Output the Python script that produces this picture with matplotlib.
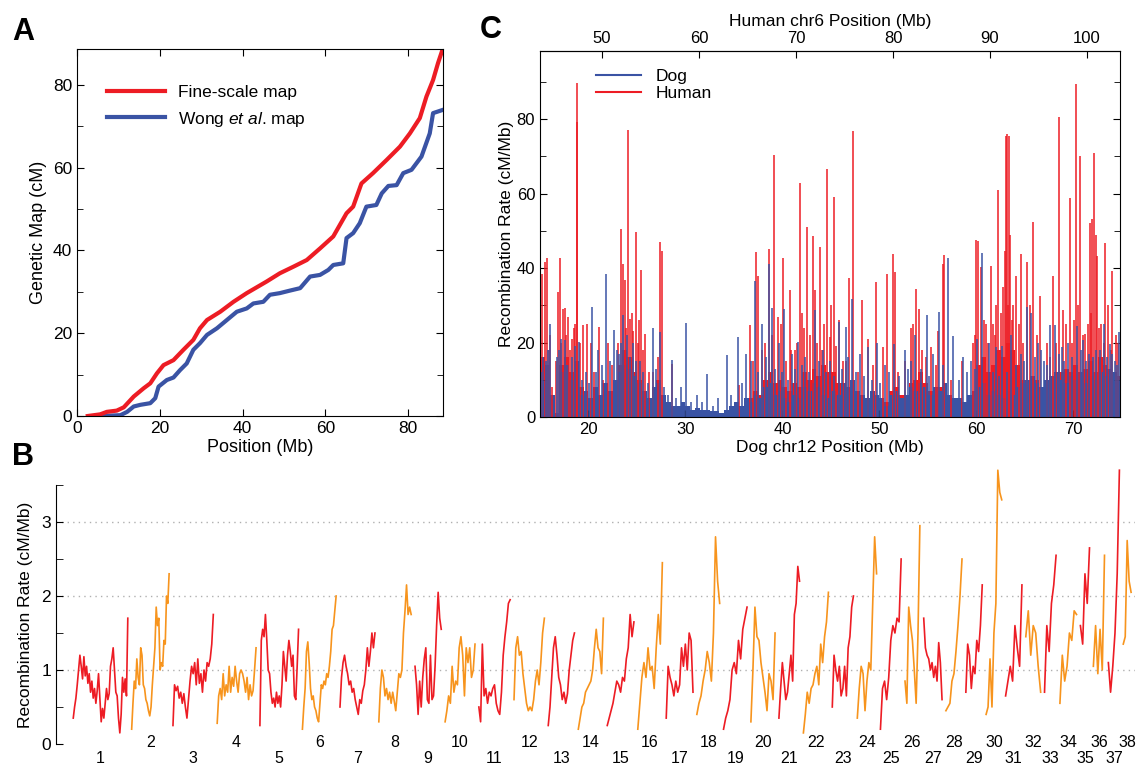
import numpy as np
import matplotlib.pyplot as plt
from matplotlib.ticker import MultipleLocator, FixedLocator
from matplotlib.lines import Line2D

plt.rcParams['font.family'] = ['Liberation Sans', 'DejaVu Sans']
plt.rcParams['mathtext.fontset'] = 'custom'
plt.rcParams['mathtext.rm'] = 'Liberation Sans'
plt.rcParams['mathtext.it'] = 'Liberation Sans:italic'

RED = '#ed1c24'
ORANGE = '#f7941d'
BLUE = '#3a53a4'

# ---- panel A: genetic map vs physical position
fine_pos = [2.6, 5.6, 7.2, 9.6, 11.3, 13.7, 16.1, 17.7, 19.3, 20.9, 23.3, 25.7, 28.1, 29.7,
            31.4, 34.6, 37.8, 41.0, 45.8, 49.0, 52.3, 55.5, 58.7, 61.9, 65.1, 66.7, 68.7,
            71.5, 74.8, 78.0, 80.4, 82.8, 84.4, 86.0, 87.2, 88.3]
fine_cm = [0, 0.4, 1.0, 1.3, 2.1, 4.7, 6.7, 7.9, 10.3, 12.3, 13.5, 16.0, 18.4, 21.2,
           23.2, 25.2, 27.6, 29.7, 32.5, 34.5, 36.1, 37.7, 40.5, 43.4, 49.0, 50.6, 56.2,
           58.7, 61.9, 65.1, 68.3, 72.0, 77.2, 81.2, 85.3, 88.6]
wong_pos = [5.6, 10.5, 12.1, 13.7, 15.3, 17.7, 18.9, 19.7, 21.7, 23.3, 24.9, 26.5, 28.1,
            29.7, 31.4, 33.8, 36.2, 38.6, 41.0, 42.6, 45.0, 46.6, 49.0, 51.4, 53.9, 56.3,
            58.7, 60.7, 61.9, 64.3, 65.1, 66.7, 68.3, 69.9, 72.3, 73.6, 75.2, 77.2, 78.8,
            80.8, 83.2, 85.2, 86.0, 88.4]
wong_cm = [0, 0.2, 1.0, 2.3, 2.7, 3.1, 4.3, 7.1, 8.7, 9.3, 11.1, 12.7, 16.0,
           17.6, 19.6, 21.2, 23.2, 25.2, 26.0, 27.2, 27.6, 29.3, 29.7, 30.3, 30.9, 33.7,
           34.1, 35.3, 36.5, 36.9, 43.0, 44.2, 46.6, 50.6, 51.0, 53.8, 55.6, 55.8, 58.7,
           59.5, 62.7, 68.3, 73.2, 74.0]

# ---- panel B: genome-wide rates by chromosome
chrom_names = [str(i) for i in range(1, 39)]
chrom_len = [125.6, 88.4, 94.7, 91.5, 91.0, 80.3, 83.0, 77.3, 64.0, 72.0, 75.0, 73.0, 64.0,
             61.5, 65.0, 60.4, 65.2, 56.6, 58.1, 59.5, 51.8, 61.4, 53.0, 48.9, 52.0, 39.3,
             46.8, 42.0, 42.6, 41.0, 42.5, 39.3, 32.1, 43.1, 26.8, 31.2, 31.0, 24.0]
chrom_rates = [
    [0.35, 0.5, 0.62, 0.8, 1.0, 1.2, 1.05, 0.88, 1.18, 0.92, 1.05, 0.82, 0.95, 0.7, 0.85, 0.62,
     0.75, 0.55, 0.72, 0.95, 0.62, 0.3, 0.48, 0.35, 0.55, 0.75, 0.6, 0.68, 1.05, 1.15, 1.3, 1.0,
     0.7, 0.65, 0.35, 0.15, 0.4, 0.9, 0.7, 0.88, 0.65, 1.7],
    [0.2, 0.55, 0.85, 0.75, 1.15, 0.9, 0.8, 1.3, 1.2, 0.8, 0.75, 0.6, 0.55, 0.45, 0.38, 0.5,
     0.8, 1.05, 1.3, 1.85, 1.6, 1.7, 1.0, 1.1, 1.05, 1.4, 1.35, 2.0, 1.9, 2.3],
    [0.25, 0.8, 0.72, 0.78, 0.62, 0.7, 0.55, 0.68, 0.5, 0.35, 0.6, 0.85, 1.05, 0.95, 1.1, 0.8,
     1.15, 0.82, 0.95, 0.7, 1.0, 0.85, 1.1, 1.05, 1.15, 1.35, 1.75],
    [0.28, 0.65, 0.75, 0.6, 0.95, 0.65, 0.8, 0.7, 1.05, 0.7, 0.9, 0.78, 1.05, 0.85, 0.7, 0.95,
     1.0, 0.95, 0.85, 0.7, 0.9, 0.6, 0.8, 0.65, 0.72, 1.0, 1.3],
    [0.25, 1.4, 1.55, 1.45, 1.75, 1.4, 1.0, 0.95, 0.7, 0.55, 0.62, 0.5, 0.7, 0.55, 0.65, 0.5,
     0.8, 1.25, 1.05, 0.85, 1.2, 1.4, 1.25, 1.05, 1.2, 0.65, 0.6, 1.05, 1.55],
    [0.2, 0.5, 0.75, 1.25, 1.38, 1.1, 0.75, 0.6, 0.65, 0.5, 0.45, 0.35, 0.3, 0.55, 0.8, 0.75,
     0.85, 0.8, 0.95, 0.9, 1.05, 1.25, 1.55, 1.6, 1.8, 2.0],
    [0.5, 0.9, 1.1, 1.2, 1.05, 0.95, 0.8, 0.85, 0.7, 0.75, 0.6, 0.5, 0.4, 0.6, 0.55, 0.72,
     0.8, 1.0, 1.3, 1.05, 1.25, 1.5, 1.3, 1.5],
    [0.3, 0.75, 1.0, 0.9, 0.65, 0.75, 0.6, 0.7, 0.55, 0.7, 0.58, 0.45, 0.7, 0.95, 0.9, 1.0,
     1.5, 1.8, 2.15, 1.75, 1.85, 1.75],
    [1.05, 0.8, 0.4, 0.85, 0.5, 0.9, 1.15, 1.3, 0.6, 0.55, 1.2, 0.6, 0.65, 1.05, 1.6, 2.05,
     1.7, 1.55],
    [0.3, 0.45, 0.65, 0.55, 1.05, 0.7, 0.85, 0.8, 1.3, 1.45, 1.2, 0.65, 1.3, 1.1, 1.3, 0.9,
     1.0, 1.35],
    [0.5, 0.3, 1.35, 0.65, 0.75, 0.55, 0.7, 0.65, 0.75, 0.8, 0.55, 0.45, 0.4, 0.7, 1.2, 1.45,
     1.65, 1.9, 1.95],
    [0.6, 1.3, 1.45, 1.2, 1.25, 0.95, 0.75, 0.55, 0.45, 0.5, 0.45, 0.6, 0.85, 1.0, 0.8, 1.1,
     1.5, 1.7],
    [0.25, 0.5, 0.9, 1.3, 1.45, 1.2, 0.9, 0.8, 0.6, 0.7, 0.55, 0.68, 1.0, 1.2, 1.4, 1.5],
    [0.2, 0.35, 0.5, 0.55, 0.7, 0.75, 0.8, 0.85, 1.0, 1.3, 1.55, 1.3, 1.25, 0.95, 1.7],
    [0.25, 0.35, 0.45, 0.55, 0.7, 0.85, 0.8, 0.7, 0.9, 0.85, 1.15, 1.3, 1.75, 1.45, 1.65],
    [0.2, 0.55, 0.9, 1.1, 0.9, 1.3, 1.0, 1.05, 0.75, 1.3, 1.75, 1.35, 2.45],
    [0.35, 1.05, 0.9, 0.8, 0.65, 0.85, 0.7, 0.8, 1.3, 1.05, 1.35, 1.0, 1.5, 1.4, 0.7],
    [0.4, 0.55, 0.65, 0.85, 1.0, 1.25, 1.1, 0.85, 1.5, 2.8, 2.2, 1.9],
    [0.2, 0.35, 0.45, 0.6, 1.0, 1.1, 0.95, 1.4, 1.15, 1.55, 1.7, 1.85],
    [0.3, 1.0, 1.85, 1.45, 1.4, 1.1, 0.9, 0.7, 0.45, 0.95, 0.85, 0.6, 1.5],
    [0.35, 0.75, 1.1, 0.85, 0.6, 0.7, 0.95, 1.2, 0.85, 1.75, 1.9, 2.4, 2.2],
    [0.15, 0.4, 0.7, 0.55, 0.75, 0.8, 0.95, 1.05, 0.8, 1.35, 1.1, 1.45, 1.65, 2.05],
    [0.5, 1.2, 1.0, 0.85, 1.05, 0.65, 0.75, 1.05, 0.65, 1.3, 1.45, 1.85, 2.0],
    [0.35, 0.75, 1.05, 0.95, 0.45, 0.85, 1.1, 1.0, 1.9, 2.8, 2.3],
    [0.2, 0.75, 0.85, 0.6, 0.9, 1.4, 1.6, 1.5, 1.7, 1.65, 2.5],
    [0.85, 0.55, 1.85, 1.6, 1.4, 1.0, 0.55, 1.5, 2.95],
    [1.7, 1.3, 1.2, 1.15, 1.0, 1.1, 0.9, 1.05, 0.85, 1.37, 1.1, 0.6],
    [0.45, 0.5, 0.55, 0.85, 0.95, 1.25, 1.6, 2.0, 2.5],
    [0.7, 1.35, 1.2, 0.75, 1.05, 0.95, 1.4, 1.25, 1.6, 2.15],
    [0.4, 0.5, 1.15, 0.5, 1.5, 1.9, 3.7, 3.4, 3.3],
    [0.65, 0.85, 1.05, 0.85, 1.6, 1.3, 1.05, 2.15],
    [1.45, 1.8, 1.2, 1.6, 1.5, 1.05, 0.7],
    [0.7, 1.6, 1.25, 1.9, 2.15, 2.55],
    [0.55, 1.2, 0.85, 1.05, 1.5, 1.4, 1.8, 1.75],
    [1.6, 1.35, 2.3, 1.9, 2.65],
    [1.05, 1.6, 0.95, 1.55, 1.0, 2.55],
    [1.1, 0.7, 1.05, 1.5, 2.3, 3.7],
    [1.35, 1.45, 2.75, 2.2, 2.05],
]
grid_levels = [1, 2, 3]

# ---- panel C: dog chr12 vs human chr6 rates
human_offset = 28.6
base_bins = np.arange(15.0, 75.0, 0.5)
dog_base = [10, 14, 6, 1, 12, 14, 10, 15, 6, 7,
            5, 8, 6, 9, 7, 10, 12, 14, 13, 11,
            9, 7, 5, 8, 9, 6, 4, 3, 3, 4,
            3, 2, 2.5, 2, 2, 1.5, 1.5, 1, 2, 3,
            4, 3, 5, 4, 6, 5, 8, 9, 6, 7,
            5, 4, 6, 5, 8, 7, 9, 8, 6, 5,
            7, 6, 9, 8, 10, 7, 6, 5, 7, 6,
            5, 3, 6, 7, 5, 6, 8, 7, 9, 8,
            6, 8, 7, 9, 6, 5, 5, 4, 6, 7,
            8, 9, 6, 7, 6, 5, 7, 6, 8, 9,
            10, 11, 9, 8, 10, 11, 12, 10, 9, 11,
            10, 12, 9, 11, 10, 12, 11, 13, 12, 10]
human_base = [16, 12, 4, 1, 14, 16, 12, 14, 8, 6,
              5, 6, 5, 7, 6, 8, 14, 18, 16, 12,
              10, 6, 4, 6, 10, 5, 3, 2, 2, 2,
              2, 1.5, 1.5, 1.5, 1, 1, 1, 1, 1.5, 2,
              3, 3, 4, 5, 7, 6, 10, 12, 9, 10,
              8, 7, 9, 8, 12, 10, 13, 11, 14, 12,
              12, 9, 7, 6, 8, 6, 5, 5, 7, 6,
              5, 4, 7, 8, 6, 6, 9, 10, 12, 9,
              7, 6, 8, 7, 5, 4, 4, 4, 5, 6,
              14, 16, 12, 14, 18, 16, 20, 18, 14, 10,
              8, 9, 10, 8, 9, 10, 11, 12, 13, 12,
              14, 12, 13, 15, 12, 16, 14, 10, 12, 11]
h_pos = [15.2, 15.5, 15.7, 16.0, 16.9, 17.05, 17.35, 17.6, 17.9, 18.3, 18.5, 18.77, 18.82,
         19.4, 19.8, 21.1, 22.0, 23.3, 23.6, 23.8, 24.1, 24.3, 24.85, 25.4, 25.85, 27.4,
         27.6, 28.6, 35.5, 36.7, 37.3, 37.5, 38.6, 39.1, 39.5, 40.05, 40.75, 41.3, 41.8,
         42.5, 43.1, 43.4, 43.9, 44.6, 44.9, 45.3, 45.8, 46.9, 47.3, 48.2, 48.8, 49.6,
         50.4, 50.8, 51.4, 51.6, 53.8, 54.1, 55.3, 56.5, 56.7, 60.0, 60.2, 60.5, 61.5,
         61.7, 62.2, 62.9, 63.0, 63.15, 63.35, 63.5, 64.1, 64.6, 65.2, 65.85, 66.6, 67.9,
         68.5, 68.9, 69.6, 70.3, 70.7, 71.2, 71.7, 71.9, 72.1, 72.3, 72.45, 73.3, 74.0,
         42.0, 42.8, 44.3, 45.0, 45.5, 46.2, 53.3, 53.5, 54.4, 56.0, 58.5, 59.6, 61.0,
         61.9, 62.5, 63.8, 64.4, 65.5, 66.2, 67.3, 69.2, 69.9, 70.5, 71.5, 72.8, 73.6,
         74.4, 16.6, 19.1, 20.3, 24.6, 25.1, 26.2, 38.2, 39.8, 40.4]
h_val = [38.5, 41.7, 42.6, 22, 33.6, 42.7, 29, 29.4, 26.9, 21, 24, 89.6, 79.3,
         24.6, 25, 24.2, 20, 50.4, 41.2, 36.7, 77, 26.4, 49.6, 39.4, 22.4, 46.9,
         44.6, 14.3, 8.5, 24.8, 44.2, 38, 45, 70.5, 26.9, 42.6, 34, 18, 62.9,
         50.9, 48.6, 34, 45.7, 66.5, 21.5, 59.1, 26, 37.2, 76.8, 31.4, 21, 36.3,
         18.8, 38.4, 43.7, 39, 34.5, 29.1, 18.8, 41.2, 43.5, 47.5, 47.3, 40.3, 40.6,
         25, 61, 44.6, 75.4, 76.1, 75.4, 48.8, 38, 43.9, 41.7, 52.4, 32.4, 38,
         80.6, 28.7, 58.7, 89.4, 70, 22.4, 52.2, 53.3, 71, 48.8, 43.2, 46.8, 39.2,
         28, 22, 25, 30, 19, 15, 24, 25, 18, 23, 15, 20, 25,
         22, 28, 30, 25, 30, 22, 20, 25, 20, 30, 25, 25, 30,
         22, 15, 20, 20, 23, 20, 12, 20, 25, 15]
human_mid = [(15.9, 18), (16.2, 8), (17.2, 20), (17.7, 22), (18.1, 18), (18.6, 25),
             (20.6, 12), (21.5, 10), (22.4, 14), (23.0, 20), (23.9, 24), (24.5, 28),
             (25.2, 26), (25.6, 18), (26.6, 12), (27.2, 16), (37.0, 15), (37.9, 18),
             (38.9, 22), (40.9, 18), (41.5, 20), (42.2, 24), (43.6, 20), (44.1, 18),
             (46.5, 15), (47.8, 12), (49.3, 14), (51.9, 12), (52.6, 15), (54.8, 16),
             (55.8, 14), (57.4, 10), (59.9, 22), (60.8, 26), (61.2, 20), (62.0, 30),
             (62.7, 35), (63.3, 30), (63.7, 26), (64.8, 20), (67.6, 16), (68.2, 20),
             (70.1, 26), (71.0, 22), (71.8, 28), (72.6, 24), (73.1, 20), (73.9, 18),
             (74.6, 20)]
d_pos = [15.3, 15.6, 16.0, 16.8, 17.2, 17.6, 18.3, 19.0, 20.4, 21.0, 21.8, 22.6, 23.1,
         23.6, 24.0, 24.6, 25.3, 26.7, 27.4, 28.6, 29.5, 30.1, 31.2, 32.2, 33.4, 34.3,
         35.4, 36.2, 36.8, 37.2, 37.9, 38.6, 38.9, 39.6, 40.2, 41.0, 41.6, 42.3, 43.4,
         44.2, 44.9, 45.8, 46.5, 47.2, 48.0, 48.8, 49.7, 50.6, 51.5, 52.6, 53.7, 54.9,
         55.5, 56.1, 57.1, 57.6, 58.6, 59.4, 60.1, 60.6, 61.3, 62.0, 62.6, 63.6, 64.6,
         65.2, 65.6, 66.3, 67.0, 67.6, 68.1, 68.8, 69.4, 70.4, 71.0, 71.6, 72.3, 73.2,
         73.8, 74.3, 74.7]
d_val = [16, 15, 25, 16, 21, 20.6, 16, 20.2, 29.6, 18, 38.3, 23.5, 17,
         27.3, 22, 20, 15, 24, 22.8, 15.2, 8, 25.3, 6, 11.5, 5, 16.6,
         21.5, 16.8, 15, 36.5, 25, 41.2, 29.4, 20, 29.1, 17, 20.2, 16, 28.7,
         18, 15, 25.5, 24.2, 31.6, 17, 18.8, 19.9, 14, 19.7, 18, 22, 27.5,
         17, 28.2, 42.6, 21.7, 16, 15, 21, 44, 20, 18.8, 19, 22, 17,
         29.6, 28, 20, 15, 24.6, 24.6, 18.8, 20, 24.4, 20.6, 17, 18, 25,
         19.7, 15, 22.8]
dog_mid = [(15.1, 12), (15.8, 18), (17.0, 18), (17.8, 14), (18.6, 19), (19.3, 10),
           (19.7, 12), (20.1, 9), (20.8, 12), (21.4, 14), (22.2, 15), (22.9, 18),
           (23.4, 20), (24.3, 16), (24.9, 15), (25.6, 12), (26.1, 9), (27.0, 13),
           (27.8, 8), (28.2, 6), (29.0, 5), (30.6, 4), (31.7, 4), (32.8, 3), (34.7, 6),
           (35.8, 9), (37.5, 12), (38.3, 16), (39.2, 13), (39.9, 12), (40.6, 10),
           (41.3, 13), (42.0, 14), (42.7, 12), (43.8, 15), (44.5, 12), (45.3, 11),
           (46.1, 13), (46.8, 16), (47.6, 12), (48.4, 11), (49.2, 10), (50.1, 9),
           (51.0, 12), (52.0, 11), (52.9, 13), (53.3, 15), (54.3, 13), (55.1, 11),
           (56.6, 14), (58.2, 10), (59.0, 12), (59.8, 13), (61.7, 12), (62.3, 11),
           (63.2, 12), (64.1, 14), (64.9, 15), (66.0, 16), (66.7, 18), (67.3, 14),
           (68.5, 17), (69.0, 15), (69.8, 16), (70.8, 18), (71.3, 15), (72.0, 16),
           (72.7, 18), (73.5, 16), (74.0, 17), (74.5, 14)]

fig = plt.figure(figsize=(11.4, 7.66), dpi=100)
W, H = 1140, 766
axA = fig.add_axes([77 / W, 1 - 416 / H, 366 / W, 367 / H])
axC = fig.add_axes([540 / W, 1 - 417 / H, 580 / W, 366 / H])
axB = fig.add_axes([56 / W, 1 - 744 / H, 1079 / W, 259 / H])

# ---- A
axA.plot(wong_pos, wong_cm, color=BLUE, lw=3, label=r'Wong $\it{et\ al}$. map')
axA.plot(fine_pos, fine_cm, color=RED, lw=3, label='Fine-scale map')
axA.set_xlim(0, 88.4)
axA.set_ylim(0, 88.7)
axA.xaxis.set_major_locator(MultipleLocator(20))
axA.yaxis.set_major_locator(MultipleLocator(20))
axA.yaxis.set_minor_locator(MultipleLocator(10))
axA.tick_params(which='both', direction='in', top=True, right=True, labelsize=12.5)
axA.tick_params(which='major', length=5)
axA.tick_params(which='minor', length=4)
axA.set_xlabel('Position (Mb)', fontsize=13, labelpad=2)
axA.set_ylabel('Genetic Map (cM)', fontsize=13, labelpad=4)
hA, lA = axA.get_legend_handles_labels()
axA.legend(hA[::-1], lA[::-1], loc='upper left', bbox_to_anchor=(0.04, 0.945),
           frameon=False, fontsize=12.5, handlelength=3.3, labelspacing=0.55)

# ---- C  (human drawn first, dog on top)
hm_pos, hm_val = zip(*human_mid)
dm_pos, dm_val = zip(*dog_mid)
axC.bar(base_bins + 0.25, human_base, width=0.5, color=RED, linewidth=0)
axC.vlines(hm_pos, 0, hm_val, color=RED, lw=1.1)
axC.vlines(h_pos, 0, h_val, color=RED, lw=1.1)
axC.bar(base_bins + 0.25, dog_base, width=0.5, color=BLUE, linewidth=0)
axC.vlines(dm_pos, 0, dm_val, color=BLUE, lw=1.1)
axC.vlines(d_pos, 0, d_val, color=BLUE, lw=1.1)
axC.set_xlim(15, 74.8)
axC.set_ylim(0, 98.3)
axC.xaxis.set_major_locator(FixedLocator([20, 30, 40, 50, 60, 70]))
axC.yaxis.set_major_locator(MultipleLocator(20))
axC.yaxis.set_minor_locator(MultipleLocator(10))
axC.tick_params(which='both', direction='in', right=True, labelsize=12)
axC.tick_params(which='major', length=5)
axC.tick_params(which='minor', length=4)
axC.set_xlabel('Dog chr12 Position (Mb)', fontsize=12.5, labelpad=2)
axC.set_ylabel('Recombination Rate (cM/Mb)', fontsize=12.5, labelpad=2)
top = axC.secondary_xaxis('top', functions=(lambda x: x + human_offset,
                                             lambda x: x - human_offset))
top.xaxis.set_major_locator(FixedLocator([50, 60, 70, 80, 90, 100]))
top.tick_params(direction='in', length=5, labelsize=12)
top.set_xlabel('Human chr6 Position (Mb)', fontsize=12.5, labelpad=4)
handlesC = [Line2D([], [], color=BLUE, lw=1.5), Line2D([], [], color=RED, lw=1.5)]
axC.legend(handlesC, ['Dog', 'Human'], loc='upper left', bbox_to_anchor=(0.07, 0.995),
           frameon=False, fontsize=12.5, handlelength=2.6, labelspacing=0.15)

# ---- B
gap = 1.4
trim = 3.5
starts = np.concatenate([[0], np.cumsum(np.array(chrom_len) + gap)[:-1]])
for i, (s, L, vals) in enumerate(zip(starts, chrom_len, chrom_rates)):
    x = np.linspace(s + trim, s + L - trim, len(vals))
    col = RED if i % 2 == 0 else ORANGE
    axB.plot(x, vals, color=col, lw=1.2, clip_on=False)
    mid = s + L / 2
    yl = 0.02 if i % 2 == 1 else -0.2
    axB.text(mid, yl, chrom_names[i], ha='center', va='center', fontsize=11.5,
             clip_on=False)
end = starts[-1] + chrom_len[-1]
for g in grid_levels:
    axB.axhline(g, color='#b0b0b0', lw=1, ls=(0, (1, 3)), zorder=0)
axB.set_xlim(-34, end + 5)
axB.set_ylim(0, 3.5)
for side in ['top', 'right', 'bottom']:
    axB.spines[side].set_visible(False)
axB.set_xticks([])
axB.yaxis.set_major_locator(MultipleLocator(1))
axB.yaxis.set_minor_locator(MultipleLocator(0.5))
axB.tick_params(which='both', direction='in', length=5, labelsize=12.5)
axB.set_ylabel('Recombination Rate (cM/Mb)', fontsize=12.5, labelpad=6)

# panel letters
fig.text(12 / W, 1 - 32 / H, 'A', fontsize=22, fontweight='bold', va='center')
fig.text(12 / W, 1 - 457 / H, 'B', fontsize=22, fontweight='bold', va='center')
fig.text(480 / W, 1 - 30 / H, 'C', fontsize=22, fontweight='bold', va='center')

fig.savefig('out.png', dpi=100)
